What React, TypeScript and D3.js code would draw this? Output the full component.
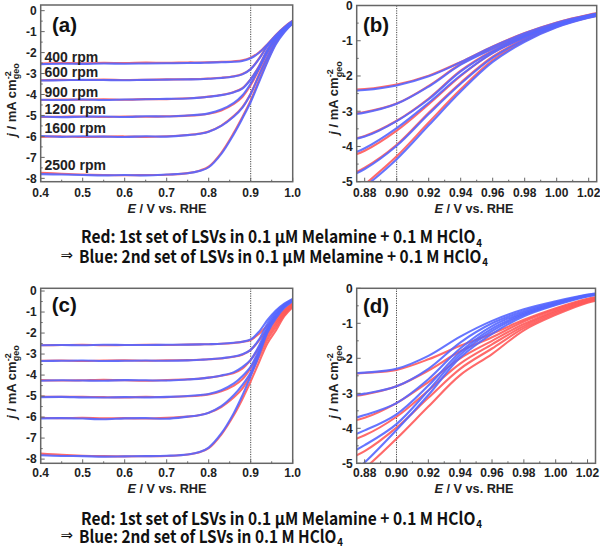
import React from 'react';
import * as d3 from 'd3';

const E = [0.40, 0.45, 0.50, 0.55, 0.60, 0.65, 0.70, 0.75, 0.78, 0.80, 0.83, 0.86, 0.88, 0.90, 0.92, 0.94, 0.96, 0.98, 1.00, 1.02, 1.03];

const RPM_LABELS = ['400 rpm', '600 rpm', '900 rpm', '1200 rpm', '1600 rpm', '2500 rpm'];
const RPM_LABEL_J = [-2.45, -3.15, -4.1, -4.95, -5.85, -7.6];

const RED_TOP = [
  [-2.52, -2.50, -2.51, -2.49, -2.50, -2.48, -2.49, -2.47, -2.47, -2.46, -2.44, -2.41, -2.37, -2.24, -1.99, -1.60, -1.16, -0.78, -0.48, -0.26, -0.18],
  [-3.32, -3.30, -3.31, -3.29, -3.31, -3.30, -3.28, -3.27, -3.26, -3.24, -3.20, -3.13, -3.02, -2.78, -2.28, -1.66, -1.21, -0.82, -0.51, -0.28, -0.20],
  [-4.26, -4.24, -4.25, -4.23, -4.25, -4.22, -4.22, -4.18, -4.14, -4.10, -4.02, -3.88, -3.70, -3.27, -2.64, -1.85, -1.28, -0.86, -0.54, -0.30, -0.21],
  [-5.07, -5.06, -5.05, -5.07, -5.05, -5.06, -5.04, -5.01, -4.97, -4.92, -4.76, -4.45, -4.12, -3.55, -2.80, -2.00, -1.34, -0.90, -0.56, -0.31, -0.22],
  [-6.02, -6.00, -6.03, -6.01, -6.00, -6.02, -5.99, -5.93, -5.86, -5.76, -5.48, -5.02, -4.60, -3.95, -3.04, -2.19, -1.45, -0.95, -0.58, -0.32, -0.23],
  [-7.74, -7.78, -7.82, -7.84, -7.85, -7.84, -7.83, -7.75, -7.62, -7.44, -6.78, -5.82, -5.08, -4.28, -3.32, -2.38, -1.55, -1.00, -0.60, -0.34, -0.25],
];

const BLUE_TOP = [
  [-2.55, -2.53, -2.54, -2.52, -2.53, -2.52, -2.51, -2.50, -2.49, -2.48, -2.46, -2.44, -2.40, -2.27, -2.01, -1.61, -1.17, -0.79, -0.49, -0.27, -0.19],
  [-3.33, -3.32, -3.30, -3.31, -3.32, -3.30, -3.29, -3.28, -3.27, -3.25, -3.21, -3.14, -3.04, -2.79, -2.30, -1.68, -1.23, -0.84, -0.53, -0.29, -0.21],
  [-4.25, -4.26, -4.24, -4.26, -4.24, -4.23, -4.21, -4.19, -4.15, -4.11, -4.03, -3.89, -3.72, -3.28, -2.66, -1.87, -1.30, -0.87, -0.55, -0.31, -0.22],
  [-5.05, -5.08, -5.06, -5.05, -5.07, -5.04, -5.05, -5.00, -4.96, -4.90, -4.72, -4.40, -4.05, -3.48, -2.76, -1.98, -1.35, -0.91, -0.57, -0.32, -0.23],
  [-5.98, -6.02, -5.99, -6.01, -6.03, -5.99, -6.01, -5.94, -5.87, -5.78, -5.50, -5.05, -4.64, -3.98, -3.08, -2.22, -1.48, -0.97, -0.59, -0.33, -0.24],
  [-7.80, -7.82, -7.84, -7.86, -7.84, -7.86, -7.82, -7.76, -7.64, -7.47, -6.83, -5.88, -5.15, -4.36, -3.40, -2.44, -1.60, -1.03, -0.62, -0.35, -0.26],
];

const RED_BOTTOM = [
  [-2.58, -2.57, -2.56, -2.58, -2.57, -2.56, -2.57, -2.55, -2.54, -2.53, -2.51, -2.47, -2.42, -2.33, -2.03, -1.64, -1.30, -0.90, -0.57, -0.30, -0.22],
  [-3.32, -3.31, -3.33, -3.31, -3.30, -3.32, -3.30, -3.29, -3.27, -3.25, -3.21, -3.13, -3.03, -2.80, -2.35, -1.80, -1.40, -0.95, -0.60, -0.32, -0.24],
  [-4.24, -4.26, -4.25, -4.23, -4.25, -4.27, -4.24, -4.20, -4.16, -4.12, -4.03, -3.90, -3.70, -3.28, -2.68, -2.00, -1.50, -1.02, -0.64, -0.35, -0.26],
  [-5.02, -5.04, -5.03, -5.05, -5.06, -5.04, -5.05, -5.01, -4.97, -4.92, -4.77, -4.50, -4.20, -3.67, -2.92, -2.15, -1.60, -1.08, -0.68, -0.37, -0.28],
  [-6.03, -6.05, -6.04, -6.06, -6.05, -6.07, -6.04, -5.98, -5.90, -5.80, -5.52, -5.06, -4.65, -3.98, -3.13, -2.30, -1.72, -1.14, -0.72, -0.39, -0.30],
  [-7.74, -7.80, -7.84, -7.86, -7.87, -7.86, -7.85, -7.78, -7.66, -7.48, -6.83, -5.90, -5.15, -4.30, -3.38, -2.48, -1.88, -1.20, -0.76, -0.41, -0.32],
];

const BLUE_BOTTOM = [
  [-2.58, -2.57, -2.58, -2.56, -2.57, -2.57, -2.56, -2.55, -2.54, -2.53, -2.51, -2.46, -2.41, -2.30, -1.93, -1.38, -0.93, -0.60, -0.37, -0.18, -0.12],
  [-3.33, -3.32, -3.31, -3.33, -3.32, -3.31, -3.32, -3.30, -3.27, -3.25, -3.20, -3.12, -3.01, -2.80, -2.30, -1.55, -1.00, -0.65, -0.40, -0.19, -0.13],
  [-4.27, -4.25, -4.26, -4.27, -4.24, -4.25, -4.26, -4.21, -4.17, -4.12, -4.02, -3.86, -3.62, -3.28, -2.60, -1.72, -1.08, -0.69, -0.42, -0.20, -0.14],
  [-5.05, -5.04, -5.06, -5.07, -5.05, -5.06, -5.04, -5.00, -4.95, -4.90, -4.72, -4.40, -4.06, -3.60, -2.78, -1.82, -1.15, -0.73, -0.44, -0.21, -0.15],
  [-6.06, -6.05, -6.07, -6.10, -6.06, -6.05, -6.08, -5.98, -5.90, -5.79, -5.48, -4.95, -4.48, -3.88, -2.92, -1.90, -1.22, -0.76, -0.46, -0.22, -0.16],
  [-7.82, -7.85, -7.86, -7.88, -7.87, -7.86, -7.84, -7.78, -7.65, -7.45, -6.78, -5.80, -4.98, -4.05, -3.05, -1.98, -1.30, -0.80, -0.48, -0.23, -0.16],
];

const WIDE_X_MAJOR = [0.4, 0.5, 0.6, 0.7, 0.8, 0.9, 1.0];
const WIDE_X_MINOR = [0.45, 0.55, 0.65, 0.75, 0.85, 0.95];
const WIDE_Y_MAJOR = [0, -1, -2, -3, -4, -5, -6, -7, -8];
const WIDE_Y_MINOR = [-0.5, -1.5, -2.5, -3.5, -4.5, -5.5, -6.5, -7.5];
const ZOOM_X_MAJOR = [0.88, 0.90, 0.92, 0.94, 0.96, 0.98, 1.00, 1.02];
const ZOOM_X_MINOR = [0.89, 0.91, 0.93, 0.95, 0.97, 0.99, 1.01];
const ZOOM_Y_MAJOR = [0, -1, -2, -3, -4, -5];
const ZOOM_Y_MINOR = [-0.5, -1.5, -2.5, -3.5, -4.5];

const RED = '#ff5a5a';
const BLUE = '#5566ff';
const AX_FONT = '"Liberation Sans", Arial, sans-serif';
const CAP_FONT = '"Noto Sans CJK JP", "Noto Sans", sans-serif';

type PanelProps = {
  id: string;
  left: number; right: number; top: number; bottom: number;
  xDom: [number, number]; yDom: [number, number];
  xMajor: number[]; xMinor: number[]; xDigits: number;
  yMajor: number[]; yMinor: number[];
  label: string; labelX: number; labelY: number;
  reds: number[][]; blues: number[][];
  xLabelY: number; xTitleX: number; xTitleY: number;
  yTitleX: number; yTitleY: number;
  rpm?: boolean;
};

function Panel(p: PanelProps) {
  const xs = d3.scaleLinear().domain(p.xDom).range([p.left, p.right]);
  const ys = d3.scaleLinear().domain(p.yDom).range([p.bottom, p.top]);
  const line = d3.line<number>()
    .x((_, i) => xs(E[i]))
    .y((d) => ys(d))
    .curve(d3.curveCatmullRom.alpha(0.5));
  const clip = `clip-${p.id}`;
  const frame = '#666';
  return (
    <g>
      <defs>
        <clipPath id={clip}>
          <rect x={p.left} y={p.top} width={p.right - p.left} height={p.bottom - p.top} />
        </clipPath>
      </defs>
      <line x1={xs(0.9)} x2={xs(0.9)} y1={p.top} y2={p.bottom} stroke="#444" strokeWidth={1} strokeDasharray="1.2,1.2" />
      <g clipPath={`url(#${clip})`} fill="none" strokeWidth={2.1} strokeLinejoin="round">
        {p.reds.map((s, i) => (
          <path key={'r' + i} d={line(s) || ''} stroke={RED} strokeOpacity={0.9} />
        ))}
        {p.blues.map((s, i) => (
          <path key={'b' + i} d={line(s) || ''} stroke={BLUE} strokeOpacity={0.9} />
        ))}
      </g>
      <rect x={p.left} y={p.top} width={p.right - p.left} height={p.bottom - p.top} fill="none" stroke={frame} strokeWidth={1.5} />
      {p.xMajor.map((v) => (
        <line key={'xm' + v} x1={xs(v)} x2={xs(v)} y1={p.bottom} y2={p.bottom - 4} stroke={frame} strokeWidth={1} />
      ))}
      {p.xMinor.map((v) => (
        <line key={'xn' + v} x1={xs(v)} x2={xs(v)} y1={p.bottom} y2={p.bottom - 2} stroke={frame} strokeWidth={1} />
      ))}
      {p.yMajor.map((v) => (
        <line key={'ym' + v} x1={p.left} x2={p.left + 4} y1={ys(v)} y2={ys(v)} stroke={frame} strokeWidth={1} />
      ))}
      {p.yMinor.map((v) => (
        <line key={'yn' + v} x1={p.left} x2={p.left + 2} y1={ys(v)} y2={ys(v)} stroke={frame} strokeWidth={1} />
      ))}
      <g fontFamily={AX_FONT} fontWeight="bold" fontSize={12} fill="#222">
        {p.xMajor.map((v) => (
          <text key={'xl' + v} x={xs(v)} y={p.xLabelY} textAnchor="middle">{v.toFixed(p.xDigits)}</text>
        ))}
        {p.yMajor.map((v) => (
          <text key={'yl' + v} x={p.left - 4} y={ys(v) + 4.3} textAnchor="end">{String(v)}</text>
        ))}
      </g>
      <text x={p.xTitleX} y={p.xTitleY} textAnchor="middle" fontFamily={AX_FONT} fontWeight="bold" fontSize={12.7} fill="#222">
        <tspan fontStyle="italic">E</tspan> / V vs. RHE
      </text>
      <text transform={`translate(${p.yTitleX},${p.yTitleY}) rotate(-90)`} textAnchor="middle" fontFamily={AX_FONT} fontWeight="bold" fontSize={13} fill="#222">
        <tspan fontStyle="italic">j</tspan> / mA cm<tspan fontSize={9} dy={-5}>-2</tspan><tspan fontSize={9} dx={-8} dy={8.5}>geo</tspan>
      </text>
      <text x={p.labelX} y={p.labelY} fontFamily={AX_FONT} fontWeight="bold" fontSize={20.5} fill="#111">{p.label}</text>
      {p.rpm && RPM_LABELS.map((t, i) => (
        <text key={t} x={44.5} y={ys(RPM_LABEL_J[i])} fontFamily={AX_FONT} fontWeight="bold" fontSize={14} fill="#222">{t}</text>
      ))}
    </g>
  );
}

function Caption({ x, y, text, end, arrow }: { x: number; y: number; text: string; end: number; arrow?: boolean }) {
  return (
    <g fill="#111">
      {arrow && (
        <text x={60.5} y={y - 2.5} fontFamily='"DejaVu Sans", sans-serif' fontSize={15}>⇒</text>
      )}
      <text x={x} y={y} fontFamily={CAP_FONT} fontWeight={700} fontSize={17.5} textLength={end - x} lengthAdjust="spacingAndGlyphs">
        {text}<tspan fontSize={11} dx={1} dy={3.5}>4</tspan>
      </text>
    </g>
  );
}

export default function App() {
  const topY: [number, number] = [-8.16, 0.27];
  const botY: [number, number] = [-8.2, 0.13];
  return (
    <svg width={600} height={552} style={{ position: 'absolute', left: 0, top: 0, background: '#fff' }}>
      <rect width={600} height={552} fill="#fff" />
      <Panel id="a" left={40.7} right={292.7} top={5} bottom={181.7}
        xDom={[0.4, 1.0]} yDom={topY} xMajor={WIDE_X_MAJOR} xMinor={WIDE_X_MINOR} xDigits={1}
        yMajor={WIDE_Y_MAJOR} yMinor={WIDE_Y_MINOR} label="(a)" labelX={52} labelY={31.7}
        reds={RED_TOP} blues={BLUE_TOP} xLabelY={197} xTitleX={167} xTitleY={213}
        yTitleX={15.5} yTitleY={100} rpm />
      <Panel id="b" left={356.7} right={596.7} top={5.5} bottom={181.7}
        xDom={[0.875, 1.025]} yDom={[-5, 0]} xMajor={ZOOM_X_MAJOR} xMinor={ZOOM_X_MINOR} xDigits={2}
        yMajor={ZOOM_Y_MAJOR} yMinor={ZOOM_Y_MINOR} label="(b)" labelX={363} labelY={31.7}
        reds={RED_TOP} blues={BLUE_TOP} xLabelY={197} xTitleX={474} xTitleY={213}
        yTitleX={338} yTitleY={98} />
      <Panel id="c" left={40.7} right={292.7} top={288.3} bottom={463.3}
        xDom={[0.4, 1.0]} yDom={botY} xMajor={WIDE_X_MAJOR} xMinor={WIDE_X_MINOR} xDigits={1}
        yMajor={WIDE_Y_MAJOR} yMinor={WIDE_Y_MINOR} label="(c)" labelX={51.7} labelY={312.3}
        reds={RED_BOTTOM} blues={BLUE_BOTTOM} xLabelY={477} xTitleX={167} xTitleY={493}
        yTitleX={15.5} yTitleY={382} />
      <Panel id="d" left={356.7} right={595.5} top={288.3} bottom={463.3}
        xDom={[0.875, 1.025]} yDom={[-5, 0]} xMajor={ZOOM_X_MAJOR} xMinor={ZOOM_X_MINOR} xDigits={2}
        yMajor={ZOOM_Y_MAJOR} yMinor={ZOOM_Y_MINOR} label="(d)" labelX={363} labelY={313}
        reds={RED_BOTTOM} blues={BLUE_BOTTOM} xLabelY={477} xTitleX={474} xTitleY={493}
        yTitleX={338} yTitleY={382} />
      <Caption x={81} y={243} end={482} text="Red: 1st set of LSVs in 0.1 μM Melamine + 0.1 M HClO" />
      <Caption x={79} y={262.7} end={488} arrow text="Blue: 2nd set of LSVs in 0.1 μM Melamine + 0.1 M HClO" />
      <Caption x={81} y={524.5} end={482} text="Red: 1st set of LSVs in 0.1 μM Melamine + 0.1 M HClO" />
      <Caption x={79} y={542.7} end={343} arrow text="Blue: 2nd set of LSVs in 0.1 M HClO" />
    </svg>
  );
}
